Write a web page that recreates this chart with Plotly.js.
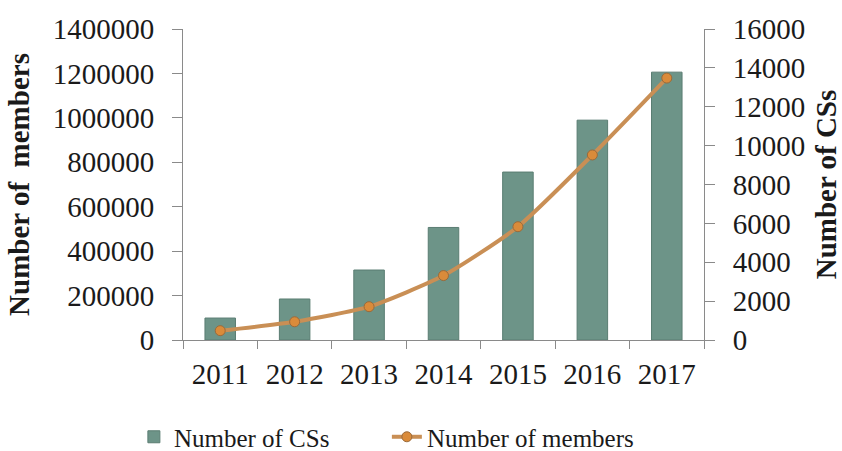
<!DOCTYPE html>
<html>
<head>
<meta charset="utf-8">
<script src="https://cdn.plot.ly/plotly-3.0.1.min.js"></script>
<style>html,body{margin:0;padding:0;background:#fff;}#chart{width:842px;height:451px;}</style>
</head>
<body>
<div id="chart"></div>
<script>
const years = ['2011', '2012', '2013', '2014', '2015', '2016', '2017'];
const numberOfCSs = [1130, 2110, 3600, 5790, 8640, 11310, 13780];
const numberOfMembers = [42000, 82000, 150000, 290000, 510000, 833000, 1179000];
const membersTicks = [0, 200000, 400000, 600000, 800000, 1000000, 1200000, 1400000];
const cssTicks = [0, 2000, 4000, 6000, 8000, 10000, 12000, 14000, 16000];

const serif = 'Liberation Serif, Times New Roman, serif';

const traces = [
  {
    type: 'bar', name: 'Number of CSs', x: years, y: numberOfCSs,
    xaxis: 'x', yaxis: 'y2',
    marker: {color: '#6d9488', line: {color: '#5a7d72', width: 1}},
    width: 0.41
  },
  {
    type: 'scatter', mode: 'lines+markers', name: 'Number of members',
    x: years, y: numberOfMembers, xaxis: 'x', yaxis: 'y',
    line: {color: '#c98f55', width: 4, shape: 'spline', smoothing: 0.6},
    marker: {color: '#da8b3a', size: 10, line: {color: '#9a6a3a', width: 1}}
  }
];

const layout = {
  width: 842, height: 451,
  margin: {l: 183, r: 138, t: 29, b: 111, autoexpand: false},
  paper_bgcolor: '#fff', plot_bgcolor: '#fff',
  font: {family: serif, color: '#1a1a1a', size: 28},
  showlegend: true,
  legend: {
    orientation: 'h', xref: 'container', yref: 'container',
    x: 0.159, xanchor: 'left', y: 0.031, yanchor: 'middle',
    font: {family: serif, size: 25, color: '#1a1a1a'},
    traceorder: 'normal', itemwidth: 30,
    entrywidth: 208, entrywidthmode: 'pixels'
  },
  xaxis: {
    type: 'category', showline: true, linecolor: '#8a8a8a', linewidth: 1,
    ticks: 'outside', tickson: 'boundaries', ticklen: 8, tickcolor: '#8a8a8a',
    showgrid: false, zeroline: false, ticklabelstandoff: 8,
    tickfont: {family: serif, size: 29, color: '#1a1a1a'},
    mirror: false
  },
  yaxis2: {
    side: 'right', range: [0, 16000], tickvals: cssTicks, ticktext: cssTicks.map(String),
    showline: true, linecolor: '#8a8a8a', linewidth: 1,
    ticks: 'outside', ticklen: 10, tickcolor: '#8a8a8a',
    showgrid: false, zeroline: false, ticklabelstandoff: 12,
    tickfont: {family: serif, size: 29, color: '#1a1a1a'},
    title: {text: '<b>Number of CSs</b>', font: {family: serif, size: 29, color: '#1a1a1a'}, standoff: 12}
  },
  yaxis: {
    side: 'left', overlaying: 'y2', range: [0, 1400000], tickvals: membersTicks, ticktext: membersTicks.map(String),
    showline: true, linecolor: '#8a8a8a', linewidth: 1,
    ticks: 'outside', ticklen: 10, tickcolor: '#8a8a8a',
    showgrid: false, zeroline: false, ticklabelstandoff: 12,
    tickfont: {family: serif, size: 29, color: '#1a1a1a'},
    title: {text: '<b>Number of  members</b>', font: {family: serif, size: 29, color: '#1a1a1a'}, standoff: 14}
  }
};

Plotly.newPlot('chart', traces, layout, {displayModeBar: false, staticPlot: true});
</script>
</body>
</html>
